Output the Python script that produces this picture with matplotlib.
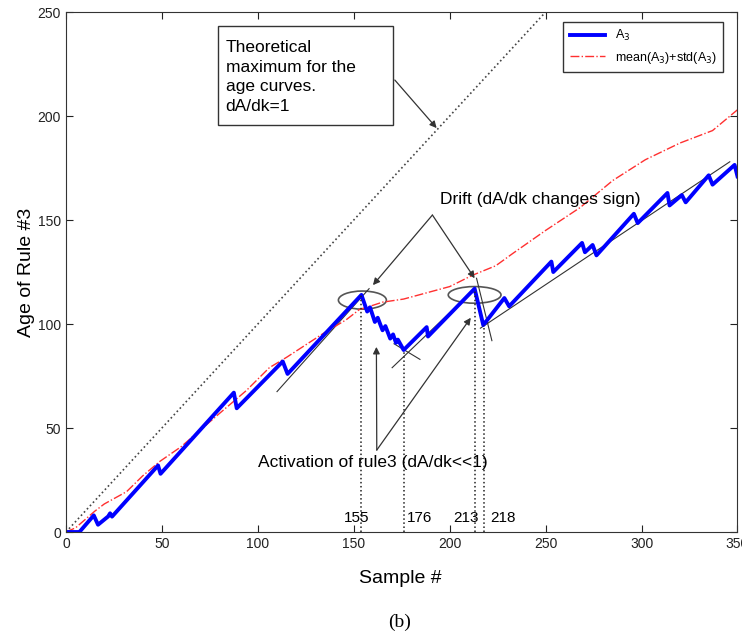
import matplotlib
matplotlib.use("Agg")
import matplotlib.pyplot as plt
from matplotlib.patches import Ellipse, Rectangle

plt.rcParams['font.family'] = ['Liberation Sans', 'DejaVu Sans']

# age curve of rule 3 (sawtooth)
age_x = [0, 7, 14.5, 16.7, 22, 23, 24, 48, 49.3, 87.5, 89, 113, 115.5, 154,
         157, 158.5, 161, 162.5, 165, 166.5, 169, 170.5, 172, 173, 176,
         188, 188.7, 213, 217.5, 228.5, 231, 253, 254, 269, 270.5, 274.5, 276.5,
         296, 298, 313.5, 314.6, 321, 323, 335, 337, 348.5, 350]
age_y = [0, 0, 8, 3.5, 7.5, 9, 7.4, 32, 28, 67, 59.5, 82, 76, 114,
         106, 108, 101, 103, 97, 99, 93, 95, 91, 92.5, 87.5,
         98.5, 94, 117, 99.5, 112.5, 108.5, 130, 125, 139, 134.5, 138, 133,
         153, 148.5, 163, 157, 162, 158.5, 171.5, 167, 176.5, 171]

# mean(A3)+std(A3)
ms_x = [0, 5, 10, 15, 20, 31.6, 40, 49, 60, 70, 80, 94, 106, 115, 125, 135, 146,
        153, 160, 165, 176, 188, 200, 212, 224, 233, 250, 268, 285, 302, 320, 337, 350]
ms_y = [0, 2, 6, 10, 13.5, 19.4, 27, 34, 41, 49, 57, 68, 79, 84, 90, 96, 102,
        107, 109, 110.5, 112, 115, 118, 123.5, 128, 134, 145, 156, 169, 179, 187, 193, 203]

# theoretical maximum dA/dk = 1
theo_x = [0, 350]
theo_y = [0, 350]

# drift / activation sample markers
event_x = [154, 176, 213, 218]
event_top = [114, 87.5, 117, 99.5]
event_labels = ['155', '176', '213', '218']
label_x = [151.5, 177.5, 215, 221]
label_ha = ['center', 'left', 'right', 'left']

# thin tangent lines (x0, y0, x1, y1)
tangents = [(110, 67.5, 158, 117), (171, 90.5, 184.5, 83), (170, 79, 212, 116),
            (214, 122, 222, 92), (216, 98, 346, 178)]

fig = plt.figure(figsize=(7.42, 6.36), dpi=100)
ax = fig.add_axes([0.0889, 0.1635, 0.905, 0.8176])

ax.plot(theo_x, theo_y, ':', color='#444444', lw=1.2)
for x0, y0, x1, y1 in tangents:
    ax.plot([x0, x1], [y0, y1], color='#333333', lw=0.8)
ax.plot(ms_x, ms_y, '-.', color='#ff3030', lw=1.0, label='mean(A$_3$)+std(A$_3$)')
ax.plot(age_x, age_y, color='#0000ff', lw=2.8, label='A$_3$')

for ex, et in zip(event_x, event_top):
    ax.plot([ex, ex], [0, et], ':', color='#222222', lw=1.1)
for lx, lab, ha in zip(label_x, event_labels, label_ha):
    ax.text(lx, 6.5, lab, ha=ha, va='center', fontsize=11)

ax.add_patch(Ellipse((154.5, 111.5), 25, 8.7, fill=False, ec='#555555', lw=1.2))
ax.add_patch(Ellipse((213, 114), 27.5, 8, fill=False, ec='#555555', lw=1.2))

arrow = dict(arrowstyle='-|>', color='#333333', lw=0.9, mutation_scale=10, shrinkA=0, shrinkB=0)

# text box for the theoretical maximum
ax.add_patch(Rectangle((79.2, 195.7), 91.2, 47.6, fc='white', ec='#333333', lw=1, zorder=3))
ax.text(83.2, 236.5, 'Theoretical\nmaximum for the\nage curves.\ndA/dk=1', ha='left', va='top',
        fontsize=12.5, linespacing=1.38, zorder=4)
ax.annotate('', xy=(193.2, 194.2), xytext=(171.4, 217.3), arrowprops=arrow)

ax.text(247, 160, 'Drift (dA/dk changes sign)', ha='center', va='center', fontsize=12.5)
ax.annotate('', xy=(160, 118.7), xytext=(191, 152.4), arrowprops=arrow)
ax.annotate('', xy=(213, 122), xytext=(191, 152.4), arrowprops=arrow)

ax.text(100, 33.2, 'Activation of rule3 (dA/dk<<1)', ha='left', va='center', fontsize=12.5)
ax.annotate('', xy=(161.8, 89), xytext=(162, 39.4), arrowprops=arrow)
ax.annotate('', xy=(211, 103), xytext=(162, 39.4), arrowprops=arrow)

ax.set_xlim(0, 350)
ax.set_ylim(0, 250)
ax.set_xticks(range(0, 351, 50))
ax.set_yticks(range(0, 251, 50))
ax.tick_params(direction='in', top=True, right=True, length=5, labelsize=10, colors='#222222')
for sp in ax.spines.values():
    sp.set_color('#333333')
ax.set_ylabel('Age of Rule #3', fontsize=14, labelpad=2)

handles, labels = ax.get_legend_handles_labels()
leg = ax.legend(handles[::-1], labels[::-1], loc='upper right', bbox_to_anchor=(0.978, 0.981),
                fontsize=9, fancybox=False, framealpha=1, edgecolor='#333333',
                handlelength=2.8, borderpad=0.5, borderaxespad=0)
leg.get_frame().set_linewidth(1.0)

fig.text(0.54, 0.091, 'Sample #', ha='center', va='center', fontsize=14)
fig.text(0.539, 0.022, '(b)', ha='center', va='center', fontsize=14, family='Liberation Serif')

fig.savefig('out.png', dpi=100)
